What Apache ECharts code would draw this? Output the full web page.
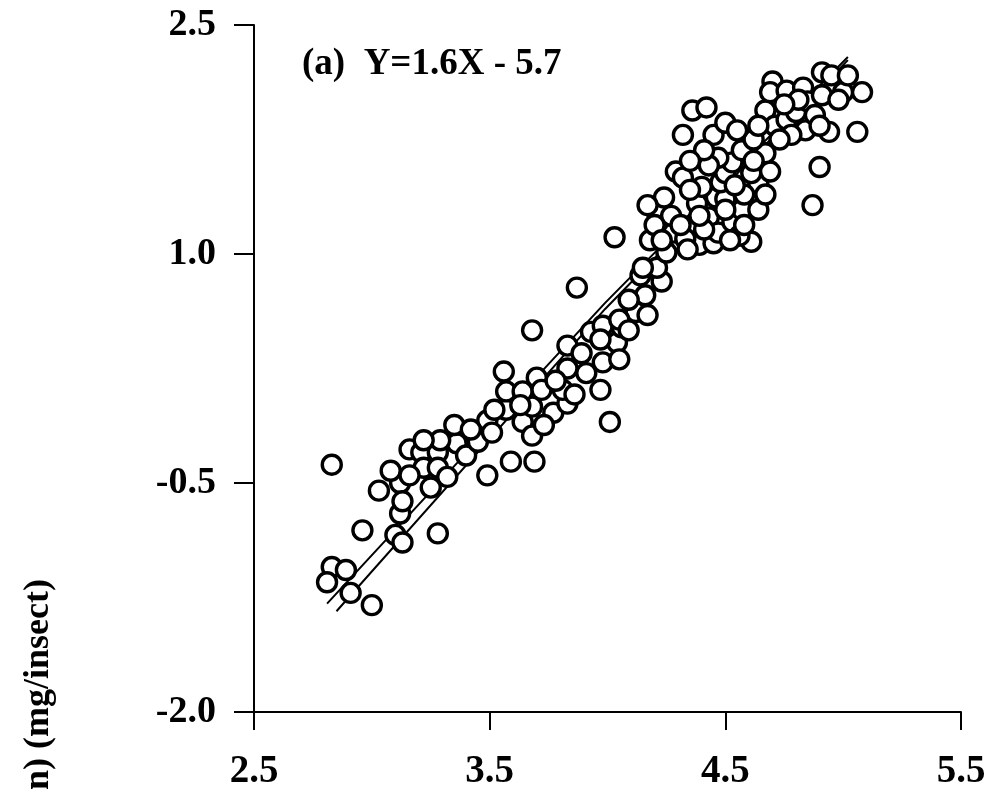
<!DOCTYPE html>
<html>
<head>
<meta charset="utf-8">
<script src="https://cdn.jsdelivr.net/npm/echarts@6/dist/echarts.min.js"></script>
<style>
html,body{margin:0;padding:0;background:#fff;}
#chart{width:991px;height:794px;}
</style>
</head>
<body>
<div id="chart"></div>
<script>
// Tick values
var xTicks = [2.5, 3.5, 4.5, 5.5];
var yTicks = [-2.0, -0.5, 1.0, 2.5];

// Observed points (X, Y)
var pointsX = [
2.83,3.03,3.12,3.16,3.21,3.28,3.36,3.44,3.40,3.22,3.28,3.32,3.25,3.12,3.13,2.96,3.10,3.13,3.28,3.49,
2.83,2.89,2.81,2.91,3.00,3.35,3.45,3.49,3.51,3.57,3.64,3.68,3.77,3.83,3.68,3.59,3.69,3.56,3.70,3.57,
3.64,3.72,3.81,3.83,3.89,3.93,3.98,3.83,3.91,3.98,4.04,4.06,4.12,4.16,4.14,4.23,4.21,4.25,4.17,3.97,
4.01,3.87,3.68,4.03,4.15,4.39,4.45,4.61,4.28,4.37,4.43,4.47,4.53,4.21,4.27,4.24,4.38,4.46,4.50,4.57,
4.29,4.32,4.40,4.48,4.64,4.50,4.53,4.61,4.69,4.47,4.57,4.67,4.62,4.32,4.45,4.50,4.55,4.36,4.42,4.67,
4.71,4.76,4.80,4.84,4.78,4.70,4.69,4.76,4.83,4.85,4.91,4.91,4.95,5.00,4.94,4.90,4.87,5.06,5.08,5.02,
4.18,4.33,4.41,4.56,4.35,4.58,4.62,4.73,4.81,4.09,4.05,
4.17,4.20,4.23,4.31,4.34,4.39,4.50,4.52,4.58,4.64,4.67,4.54,4.43,4.41,4.35,4.64,4.75,4.88,4.98,4.90,
4.05,4.09,3.97,3.78,3.86,3.63,3.52,3.73,3.42,3.29,3.22,3.08,3.16
];
var pointsY = [
-0.38,-0.55,-0.50,-0.28,-0.30,-0.30,-0.24,-0.22,-0.32,-0.40,-0.40,-0.46,-0.53,-0.70,-0.62,-0.81,-0.84,-0.89,-0.83,-0.45,
-1.05,-1.07,-1.15,-1.22,-1.30,-0.12,-0.23,-0.09,-0.17,-0.02,-0.10,0.00,-0.04,0.02,-0.19,-0.36,-0.36,0.23,0.19,0.10,
0.10,0.11,0.11,0.40,0.35,0.49,0.53,0.25,0.22,0.29,0.42,0.52,0.62,0.73,0.86,0.82,0.91,1.01,0.60,0.11,
-0.10,0.78,0.50,1.11,0.91,1.06,1.07,1.08,1.14,1.20,1.24,1.14,1.21,1.27,1.25,1.37,1.33,1.37,1.36,1.29,
1.54,1.50,1.44,1.47,1.46,1.53,1.60,1.53,1.54,1.63,1.68,1.66,1.75,1.78,1.78,1.86,1.81,1.94,1.96,1.94,
1.84,1.88,1.93,1.81,1.78,2.13,2.06,2.07,2.09,2.00,2.04,2.19,2.17,2.06,1.80,1.57,1.32,1.80,2.06,2.17,
1.09,1.10,1.16,1.12,1.42,1.39,1.61,1.75,2.01,0.70,0.31,
1.32,1.19,1.09,1.19,1.03,1.25,1.29,1.09,1.19,1.29,1.39,1.45,1.58,1.68,1.61,1.84,1.98,1.91,2.01,1.84,
0.57,0.50,0.44,0.17,0.08,0.01,-0.02,-0.12,-0.15,-0.22,-0.22,-0.42,-0.45
];

// Two fitted lines
var lineAX = [2.81, 3.99, 5.02];
var lineAY = [-1.29, 0.68, 2.29];
var lineBX = [2.85, 3.99, 5.02];
var lineBY = [-1.34, 0.64, 2.27];

var annotation = '(a)  Y=1.6X - 5.7';
var yAxisTitle = 'n) (mg/insect)';

function pairs(xs, ys){ return xs.map(function(x,i){ return [x, ys[i]]; }); }

var serif = '"Liberation Serif", "Times New Roman", serif';
var chart = echarts.init(document.getElementById('chart'));
var lineStyle = {color:'#000', width:2};
chart.setOption({
  animation:false,
  backgroundColor:'#fff',
  grid:{left:254, right:30, top:25, bottom:82, containLabel:false},
  xAxis:{
    type:'value', min:xTicks[0], max:xTicks[xTicks.length-1], interval:1,
    axisLine:{onZero:false, lineStyle:{color:'#000', width:2}},
    axisTick:{length:18, lineStyle:{color:'#000', width:2}},
    splitLine:{show:false},
    axisLabel:{color:'#000', fontFamily:serif, fontWeight:'bold', fontSize:39, margin:40,
      formatter:function(v){ return v.toFixed(1); }}
  },
  yAxis:{
    type:'value', min:yTicks[0], max:yTicks[yTicks.length-1], interval:1.5,
    axisLine:{onZero:false, lineStyle:{color:'#000', width:2}},
    axisTick:{length:20, lineStyle:{color:'#000', width:2}},
    splitLine:{show:false},
    axisLabel:{color:'#000', fontFamily:serif, fontWeight:'bold', fontSize:38, margin:38,
      formatter:function(v){ return v.toFixed(1); }}
  },
  graphic:[
    {type:'text', left:302, top:46, style:{text:annotation, fill:'#000', font:'bold 37px ' + serif}},
    {type:'text', x:39, y:790, rotation:Math.PI/2,
      style:{text:yAxisTitle, fill:'#000', font:'bold 36px ' + serif, textAlign:'left', textVerticalAlign:'middle'}}
  ],
  series:[
    {type:'line', data:pairs(lineAX, lineAY), symbol:'none', lineStyle:lineStyle, z:1},
    {type:'line', data:pairs(lineBX, lineBY), symbol:'none', lineStyle:lineStyle, z:1},
    {type:'scatter', data:pairs(pointsX, pointsY), symbol:'circle', symbolSize:19,
      itemStyle:{color:'#fff', borderColor:'#000', borderWidth:3.4, opacity:1}, z:3}
  ]
});
</script>
</body>
</html>
